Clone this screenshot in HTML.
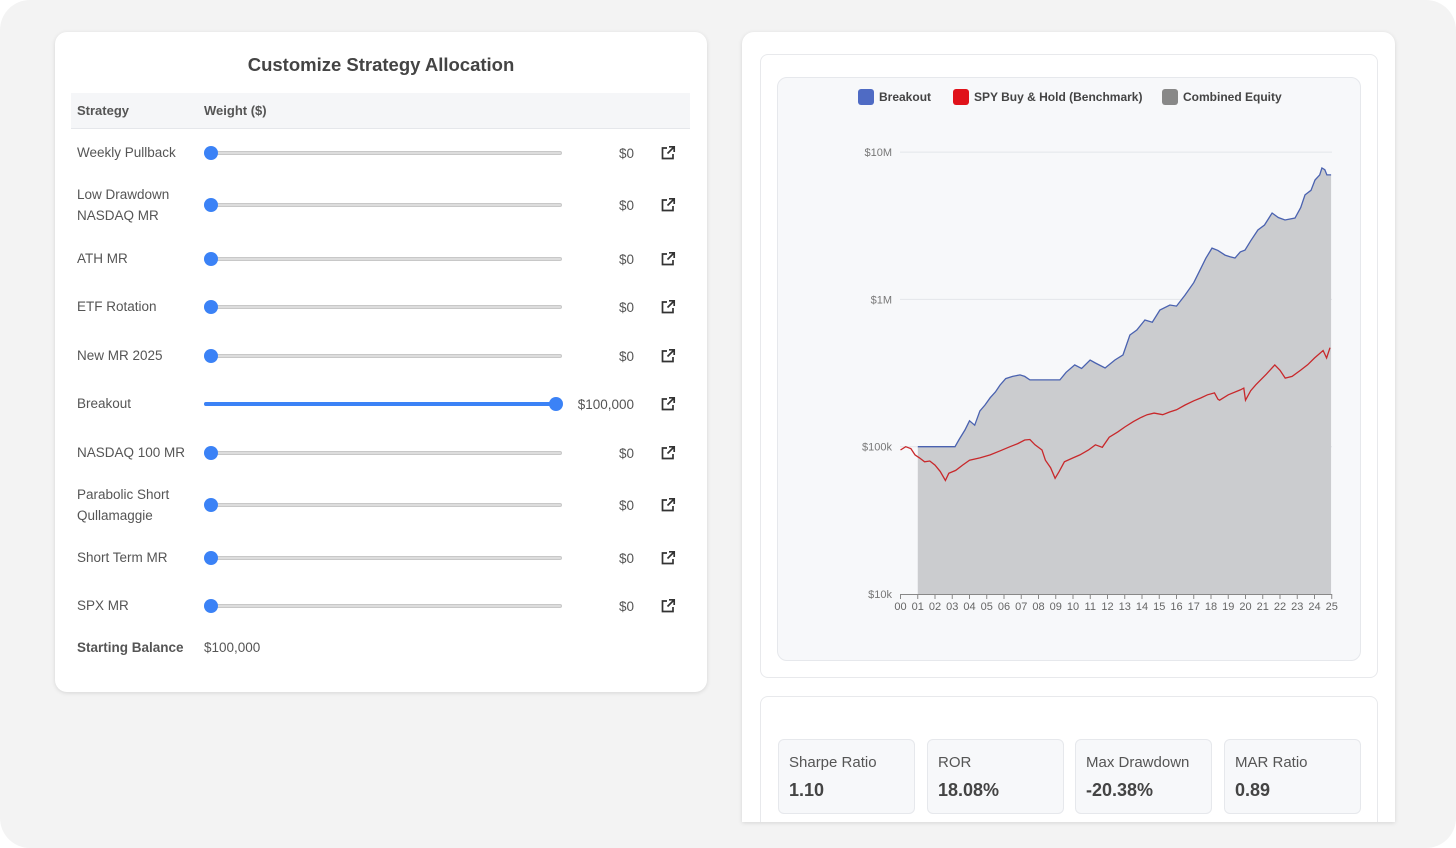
<!DOCTYPE html>
<html><head><meta charset="utf-8"><style>
*{box-sizing:border-box;margin:0;padding:0}
body{width:1456px;height:848px;background:#fff;font-family:"Liberation Sans",sans-serif;position:relative;overflow:hidden}
.frame{position:absolute;left:0;top:0;width:1456px;height:848px;background:#f3f3f3;border-radius:30px}
.card{position:absolute;background:#fff;border-radius:12px;box-shadow:0 1px 4px rgba(0,0,0,.12)}
.abs{position:absolute}
.row{position:absolute;left:0;width:652px}
.lbl{position:absolute;left:22px;font-size:13.5px;color:#555;line-height:21px}
.track{position:absolute;left:149px;width:358px;height:4px;background:#ddd;border:1px solid #c8c8c8;border-radius:2px}
.thumb{position:absolute;width:14px;height:14px;border-radius:50%;background:#3b82f6}
.val{position:absolute;right:73px;font-size:13.5px;color:#555}
.ico{position:absolute;left:605px;width:16px;height:16px}
.stat{position:absolute;top:42px;width:137px;height:75px;background:#f7f8fa;border:1px solid #e6e8ec;border-radius:6px}
.stat .t{position:absolute;left:10px;top:14px;font-size:15px;color:#555}
.stat .v{position:absolute;left:10px;top:40px;font-size:18px;font-weight:bold;color:#444}
</style></head><body>
<div class="frame"></div>

<div class="card" style="left:55px;top:32px;width:652px;height:660px">
  <div class="abs" style="left:0;width:652px;top:22px;text-align:center;font-size:18.5px;font-weight:bold;color:#444">Customize Strategy Allocation</div>
  <div class="abs" style="left:16px;top:61px;width:619px;height:36px;background:#f5f6f8;border-bottom:1px solid #e5e7eb">
    <div class="abs" style="left:6px;top:10px;font-size:13px;font-weight:bold;color:#555">Strategy</div>
    <div class="abs" style="left:133px;top:10px;font-size:13px;font-weight:bold;color:#555">Weight ($)</div>
  </div>
  <div id="rows"></div>
  <div class="abs" style="left:22px;top:608px;font-size:13.5px;font-weight:bold;color:#555">Starting Balance</div>
  <div class="abs" style="left:149px;top:608px;font-size:13.5px;color:#555">$100,000</div>
</div>

<div class="card" style="left:742px;top:32px;width:653px;height:790px;border-radius:12px 12px 0 0;overflow:hidden">
  <div class="abs" style="left:18px;top:22px;width:618px;height:624px;border:1px solid #e8e9ec;border-radius:8px"></div>
  <div class="abs" style="left:35px;top:45px;width:584px;height:584px;background:#f7f8fa;border:1px solid #e6e8ec;border-radius:10px"></div>
  <div class="abs" style="left:18px;top:664px;width:618px;height:140px;border:1px solid #e8e9ec;border-radius:8px">
    <div class="stat" style="left:17px"><div class="t">Sharpe Ratio</div><div class="v">1.10</div></div>
    <div class="stat" style="left:166px"><div class="t">ROR</div><div class="v">18.08%</div></div>
    <div class="stat" style="left:314px"><div class="t">Max Drawdown</div><div class="v">-20.38%</div></div>
    <div class="stat" style="left:463px"><div class="t">MAR Ratio</div><div class="v">0.89</div></div>
  </div>
</div>

<svg id="chart" class="abs" style="left:0;top:0" width="1456" height="848"></svg>

<script>
const strategies=["Weekly Pullback","Low Drawdown\nNASDAQ MR","ATH MR","ETF Rotation","New MR 2025","Breakout","NASDAQ 100 MR","Parabolic Short\nQullamaggie","Short Term MR","SPX MR"];
const weights=[0,0,0,0,0,100000,0,0,0,0];
const rowCenters=[121,173,227,275,324,372,421,473,526,574];
const rowsEl=document.getElementById('rows');
strategies.forEach((s,i)=>{
  const r=document.createElement('div');r.className='row';r.style.top=(rowCenters[i]-15)+'px';r.style.height='30px';
  
  
  const two=s.includes('\n');
  const l=document.createElement('div');l.className='lbl';l.style.top=two?'-6px':'4px';l.innerHTML=s.replace('\n','<br>');
  
  
  r.appendChild(l);
  const t=document.createElement('div');t.className='track';t.style.top='13px';
  
  
  const frac=weights[i]/100000;
  if(frac>0){const f=document.createElement('div');f.style.cssText='position:absolute;left:-1px;top:-1px;height:4px;border-radius:2px;background:#3b82f6;width:'+(frac*352)+'px';t.appendChild(f);}
  const th=document.createElement('div');th.className='thumb';th.style.left=(frac*345-1)+'px';th.style.top='-6px';
  
  
  t.appendChild(th);r.appendChild(t);
  const v=document.createElement('div');v.className='val';v.style.top='8px';v.textContent='$'+weights[i].toLocaleString('en-US');
  
  
  r.appendChild(v);
  const ic=document.createElementNS('http://www.w3.org/2000/svg','svg');ic.setAttribute('class','ico');ic.setAttribute('viewBox','0 0 16 16');ic.style.top='7px';
  ic.innerHTML='<path d="M7 3H2.5v10.5H13V9" fill="none" stroke="#333" stroke-width="1.7"/><path d="M9 1.8h5.2V7M14 2L7.5 8.5" fill="none" stroke="#333" stroke-width="1.7"/>';
  
  
  r.appendChild(ic);
  rowsEl.appendChild(r);
});

// chart data
const yearTicks=["00","01","02","03","04","05","06","07","08","09","10","11","12","13","14","15","16","17","18","19","20","21","22","23","24","25"];
const yTickValues=[10000,100000,1000000,10000000];
const yTickLabels=["$10k","$100k","$1M","$10M"];
const breakoutYears=[1.0,3.16,3.4,3.74,4.0,4.3,4.6,4.9,5.2,5.5,5.77,6.1,6.5,6.93,7.2,7.5,8.0,9.24,9.6,10.1,10.5,10.99,11.3,11.86,12.43,12.9,13.3,13.7,14.17,14.6,15.04,15.62,16.0,16.49,17.0,17.36,17.7,18.06,18.4,18.81,19.1,19.39,19.7,19.97,20.3,20.72,21.1,21.54,21.9,22.29,22.87,23.2,23.45,23.8,24.03,24.3,24.43,24.6,24.72,24.96];
const breakoutValues=[100000,100000,112000,130000,150000,140000,175000,192000,215000,235000,262000,290000,300000,307000,300000,284000,284000,284000,320000,359000,340000,388000,370000,342000,388000,420000,573000,620000,725000,700000,847000,916000,900000,1070000,1300000,1580000,1900000,2230000,2150000,2000000,1950000,1910000,2100000,2160000,2500000,2960000,3200000,3860000,3600000,3460000,3570000,4200000,5120000,5500000,6470000,7000000,7800000,7600000,7000000,7000000];
const spyYears=[0.0,0.3,0.6,0.84,1.1,1.4,1.7,2.0,2.3,2.6,2.8,3.2,3.6,4.0,4.6,5.2,5.8,6.35,6.8,7.2,7.5,7.8,8.2,8.4,8.7,8.96,9.2,9.5,10.0,10.4,10.9,11.3,11.7,12.1,12.6,13.0,13.5,13.9,14.3,14.7,15.2,15.6,16.0,16.5,17.0,17.4,17.8,18.2,18.4,18.5,19.0,19.7,19.9,20.0,20.3,20.6,21.2,21.7,22.0,22.3,22.7,23.2,23.6,24.0,24.5,24.7,24.9];
const spyValues=[95000,100000,97000,88000,84000,79000,80000,75000,68000,59000,66000,69000,75000,81000,84000,88000,94000,100000,105000,111000,112000,103000,95000,81000,72000,61000,68000,79000,84000,88000,95000,103000,99000,116000,126000,136000,148000,157000,165000,169000,165000,172000,178000,192000,205000,214000,225000,232000,210000,207000,225000,243000,250000,207000,240000,263000,310000,359000,330000,292000,300000,331000,360000,400000,450000,400000,470000];

const X0=900.5,XPY=17.25,Y10k=594,PPD=147.3;
const xs=y=>X0+y*XPY;
const ys=v=>Y10k-(Math.log10(v)-4)*PPD;
const svg=document.getElementById('chart');
const NS='http://www.w3.org/2000/svg';
function el(tag,attrs){const e=document.createElementNS(NS,tag);for(const k in attrs)e.setAttribute(k,attrs[k]);svg.appendChild(e);return e;}
yTickValues.forEach((v,i)=>{
  if(i>0){const g=el('line',{x1:900,x2:1332,y1:ys(v),y2:ys(v),stroke:'#e3e6ea','stroke-width':1});
  
  }
  const t=el('text',{x:892,y:ys(v)+4,'text-anchor':'end','font-size':11,fill:'#777','font-family':'Liberation Sans, sans-serif'});t.textContent=yTickLabels[i];
  
  
});
// area
let d='M'+xs(breakoutYears[0])+','+ys(10000);
breakoutYears.forEach((y,i)=>d+='L'+xs(y).toFixed(1)+','+ys(breakoutValues[i]).toFixed(1));
d+='L'+xs(breakoutYears[breakoutYears.length-1])+','+ys(10000)+'Z';
const area=el('path',{d:d,fill:'#cbcccf'});


const line=(ya,va,c,name)=>{let p='';ya.forEach((y,i)=>p+=(i?'L':'M')+xs(y).toFixed(1)+','+ys(va[i]).toFixed(1));const e=el('path',{d:p,fill:'none',stroke:c,'stroke-width':1.3});
  
  };
line(breakoutYears,breakoutValues,'#4a62b0','breakout-line');
line(spyYears,spyValues,'#c8282b','spy-line');
// x axis
const ax=el('line',{x1:900,x2:1332,y1:594.5,y2:594.5,stroke:'#888','stroke-width':1});


yearTicks.forEach((lab,i)=>{
  const tk=el('line',{x1:xs(i),x2:xs(i),y1:594,y2:599,stroke:'#888'});
  
  
  const t=el('text',{x:xs(i),y:610,'text-anchor':'middle','font-size':11,fill:'#666','font-family':'Liberation Sans, sans-serif'});t.textContent=lab;
  
  
});
// legend
const legendNames=["Breakout","SPY Buy & Hold (Benchmark)","Combined Equity"];
const legendColors=["#4f6bc4","#e0121a","#888888"];
const legendX=[858,953,1162];
legendNames.forEach((n,i)=>{
  const r=el('rect',{x:legendX[i],y:89,width:16,height:16,rx:3,fill:legendColors[i]});
  
  
  const t=el('text',{x:legendX[i]+21,y:101,'font-size':12,'font-weight':'bold',fill:'#444','font-family':'Liberation Sans, sans-serif'});t.textContent=n;
  
  
});
</script>
</body></html>
